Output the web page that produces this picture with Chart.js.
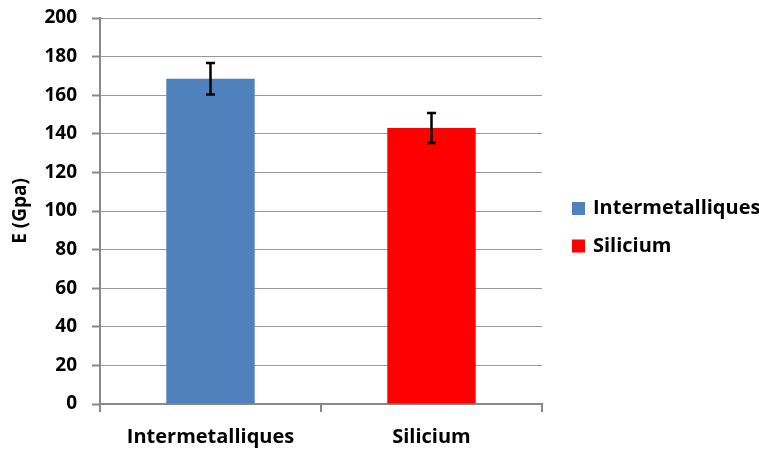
<!DOCTYPE html>
<html><head><meta charset="utf-8">
<script src="https://cdn.jsdelivr.net/npm/chart.js@4"></script>
<style>html,body{margin:0;padding:0;background:#fff}#wrap{width:759px;height:449px}</style>
</head><body><div id="wrap"><canvas id="c" width="759" height="449"></canvas></div>
<script>
const categories = ["Intermetalliques", "Silicium"];
const values = [168.5, 143];
const errors = [8.2, 7.8];
const colors = ["#4F81BD", "#FF0000"];
const yTicks = [0, 20, 40, 60, 80, 100, 120, 140, 160, 180, 200];

const FONT = "'Open Sans', Lato, sans-serif";

const errorBars = {
  id: 'errorBars',
  afterDatasetsDraw(chart) {
    const meta = chart.getDatasetMeta(0);
    const y = chart.scales.y;
    const ctx = chart.ctx;
    ctx.save();
    ctx.strokeStyle = '#000';
    ctx.lineWidth = 2.5;
    meta.data.forEach((bar, i) => {
      const yt = y.getPixelForValue(values[i] + errors[i]);
      const yb = y.getPixelForValue(values[i] - errors[i]);
      const x = bar.x;
      ctx.beginPath();
      ctx.moveTo(x, yt); ctx.lineTo(x, yb);
      ctx.moveTo(x - 4.5, yt); ctx.lineTo(x + 4.5, yt);
      ctx.moveTo(x - 4.5, yb); ctx.lineTo(x + 4.5, yb);
      ctx.stroke();
    });
    ctx.restore();
  }
};

const sideLegend = {
  id: 'sideLegend',
  afterDraw(chart) {
    const ctx = chart.ctx;
    const area = chart.chartArea;
    const midY = (area.top + area.bottom) / 2;
    const step = 37.5;
    const x0 = area.right + 30;
    ctx.save();
    ctx.font = "bold 20px " + FONT;
    ctx.textBaseline = 'middle';
    ctx.textAlign = 'left';
    categories.forEach((c, i) => {
      const cy = midY - 2.5 + i * step;
      ctx.fillStyle = colors[i];
      ctx.fillRect(x0, cy - 6.5, 13, 13);
      ctx.fillStyle = '#000';
      ctx.fillText(c, x0 + 21, cy);
    });
    ctx.restore();
  }
};

new Chart(document.getElementById('c'), {
  type: 'bar',
  data: {
    labels: categories,
    datasets: [{
      label: 'E',
      data: values,
      backgroundColor: colors,
      borderWidth: 0,
      categoryPercentage: 0.4,
      barPercentage: 1.0
    }]
  },
  options: {
    responsive: false,
    animation: false,
    layout: { padding: { top: 18, right: 217, left: 0, bottom: 0 } },
    plugins: {
      tooltip: { enabled: false },
      legend: { display: false }
    },
    scales: {
      x: {
        afterFit: (s) => { s.height = 45; s.paddingLeft = 0; s.paddingRight = 0; },
        grid: { display: true, drawOnChartArea: false, drawTicks: true, tickLength: 8, offset: true, color: '#888', lineWidth: 2 },
        border: { color: '#888', width: 2 },
        ticks: { color: '#000', font: { family: FONT, size: 20, weight: 'bold' }, padding: 13 }
      },
      y: {
        min: 0, max: 200,
        afterFit: (s) => { s.width = 100; s.paddingTop = 0; s.paddingBottom = 0; },
        afterBuildTicks: (s) => { s.ticks = yTicks.map(v => ({ value: v })); },
        grid: { color: '#9a9a9a', lineWidth: 1, tickLength: 8, tickColor: '#888', tickWidth: 2 },
        border: { color: '#888', width: 2 },
        ticks: { color: '#000', font: { family: FONT, size: 19, weight: 'bold' }, padding: 15 },
        title: { display: true, text: 'E (Gpa)', color: '#000', font: { family: FONT, size: 19, weight: 'bold' }, padding: 9 }
      }
    }
  },
  plugins: [errorBars, sideLegend]
});
</script></body></html>
